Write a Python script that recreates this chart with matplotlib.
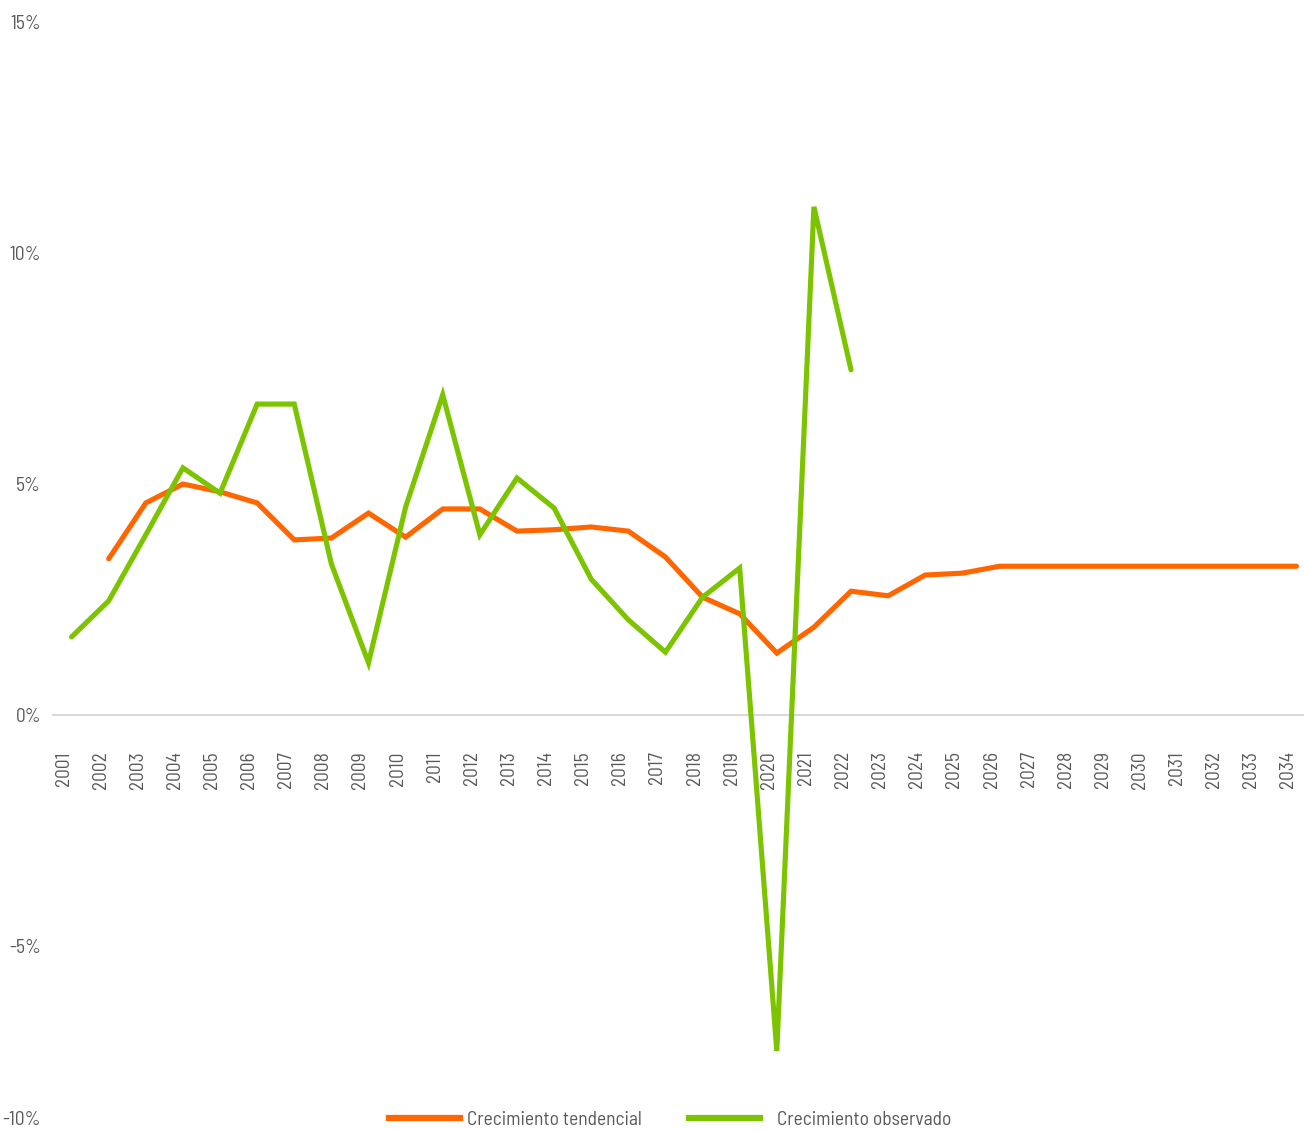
import matplotlib
matplotlib.use("Agg")
import matplotlib.pyplot as plt
import matplotlib.transforms as mtransforms
from matplotlib.lines import Line2D

years = [str(y) for y in range(2001, 2035)]

tendencial = [None, 3.38, 4.59, 5.00, 4.83, 4.59, 3.79, 3.83, 4.37, 3.85,
              4.46, 4.46, 3.98, 4.01, 4.07, 3.98, 3.42, 2.55, 2.19, 1.34,
              1.90, 2.68, 2.58, 3.03, 3.07, 3.22, 3.22, 3.22, 3.22, 3.22,
              3.22, 3.22, 3.22, 3.22]

observado = [1.69, 2.47, 3.90, 5.35, 4.80, 6.73, 6.73, 3.27, 1.13, 4.50,
             6.93, 3.90, 5.13, 4.48, 2.94, 2.06, 1.36, 2.55, 3.18, -7.27,
             11.00, 7.47]

ytick_vals = [-5, 0, 5, 10, 15]
ytick_labels = ["-5%", "0%", "5%", "10%", "15%"]
series_names = ["Crecimiento tendencial", "Crecimiento observado"]

FONT = ["Barlow Semi Condensed", "DejaVu Sans"]
plt.rcParams["font.family"] = FONT
FS = 14
TXT = "#595959"
ORANGE = "#FF6600"
GREEN = "#7DC400"

W, H = 1304, 1130
fig = plt.figure(figsize=(W / 100, H / 100), dpi=100)
left = 53 / W
right = 1315 / W
top = (H - 22) / H
bottom = (H - 1177) / H
ax = fig.add_axes([left, bottom, right - left, top - bottom])
ax.set_xlim(-0.5, len(years) - 0.5)
ax.set_ylim(-10, 15)

xt = [i for i, v in enumerate(tendencial) if v is not None]
yt = [v for v in tendencial if v is not None]
ax.plot(xt, yt, color=ORANGE, lw=3.7, solid_capstyle="round",
        solid_joinstyle="miter", zorder=3)
ax.plot(range(len(observado)), observado, color=GREEN, lw=3.7,
        solid_capstyle="round", solid_joinstyle="miter", zorder=4)

for s in ["top", "right", "left"]:
    ax.spines[s].set_visible(False)
ax.spines["bottom"].set_position(("data", 0))
ax.spines["bottom"].set_color("#D9D9D9")
ax.spines["bottom"].set_linewidth(1.5)

ax.set_xticks(range(len(years)))
ax.set_xticklabels(years, rotation=90, fontsize=FS, color=TXT)
ax.tick_params(axis="x", length=0, pad=26)
offset = mtransforms.ScaledTranslation(-8 / 100, 0, fig.dpi_scale_trans)
for lab in ax.get_xticklabels():
    lab.set_transform(lab.get_transform() + offset)

ax.set_yticks(ytick_vals)
ax.set_yticklabels(ytick_labels, fontsize=FS, color=TXT)
ax.tick_params(axis="y", length=0, pad=8.6)

fig.text(41 / W, (H - 1120) / H, "-10%", ha="right", va="center",
         fontsize=FS, color=TXT)

ly = (H - 1120) / H
specs = [(ORANGE, series_names[0], 389, 0.36),
         (GREEN, series_names[1], 689, 0.87)]
for col, name, x0, tp in specs:
    lg = fig.legend([Line2D([0], [0], color=col, lw=4.5)], [name],
                    loc="center left", bbox_to_anchor=(x0 / W, ly),
                    frameon=False, fontsize=FS, handlelength=3.65,
                    handletextpad=tp, borderpad=0, borderaxespad=0)
    for t in lg.get_texts():
        t.set_color(TXT)

fig.savefig("out.png", dpi=100)
